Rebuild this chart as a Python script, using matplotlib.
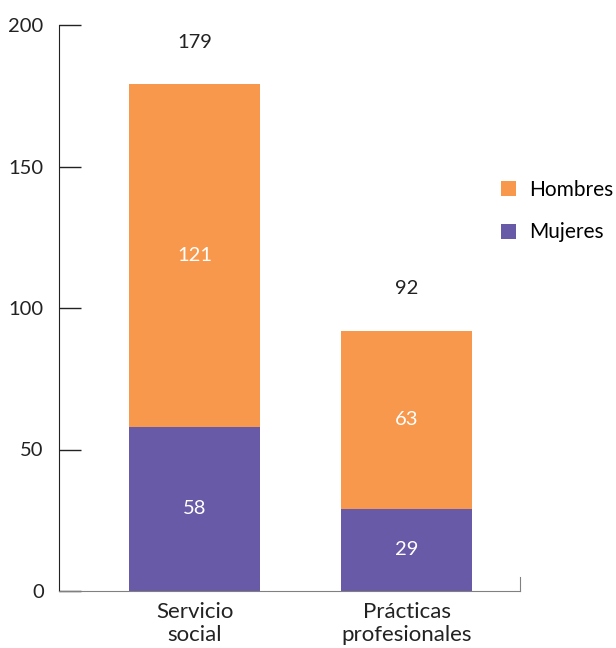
import numpy as np
import matplotlib
matplotlib.use("Agg")
import matplotlib.pyplot as plt

# data
categories = ["Servicio\nsocial", "Prácticas\nprofesionales"]
mujeres = [58, 29]
hombres = [121, 63]
yticks = [0, 50, 100, 150, 200]

orange = "#F7984C"
purple = "#685AA6"

plt.rcParams['font.family'] = ['Lato', 'DejaVu Sans']

fig = plt.figure(figsize=(6.16, 6.48), dpi=100)
ax = fig.add_axes([59/616, 1-591/648, (520-59)/616, (591-25)/648])

x = np.arange(len(categories))
w = 0.618
totals = np.array(mujeres) + np.array(hombres)

b1 = ax.bar(x, mujeres, w, color=purple, label="Mujeres")
b2 = ax.bar(x, hombres, w, bottom=mujeres, color=orange, label="Hombres")

for i in range(len(x)):
    ax.text(x[i], mujeres[i]/2, str(mujeres[i]), ha='center', va='center',
            color='white', fontsize=14.5)
    ax.text(x[i], mujeres[i] + hombres[i]/2, str(hombres[i]), ha='center',
            va='center', color='white', fontsize=14.5)
    ax.annotate(str(totals[i]), (x[i], totals[i]), xytext=(0, 24),
                textcoords='offset points', ha='center', va='bottom',
                fontsize=14.5, color='#222222')

ax.set_xlim(-0.639, 1.535)
ax.set_ylim(0, 200)
ax.set_yticks(yticks)
ax.set_xticks(x)
ax.set_xticklabels(categories, fontsize=16, linespacing=1.15)
ax.tick_params(axis='y', direction='in', length=16, width=1, labelsize=14.5,
               colors='#222222')
ax.tick_params(axis='x', length=0, pad=8, colors='#222222')
ax.yaxis.set_tick_params(pad=11)

ax.spines['top'].set_visible(False)
ax.spines['left'].set_color('#222222')
ax.spines['bottom'].set_color('#808080')
ax.spines['right'].set_color('#808080')
ax.spines['right'].set_bounds(0, 5)

fig.legend(handles=[b2, b1], labels=["Hombres", "Mujeres"], loc='center left',
           bbox_to_anchor=(482/616, 1-211/648), frameon=False, fontsize=15,
           handlelength=0.75, handleheight=0.75, handletextpad=0.6,
           labelspacing=1.1)

fig.savefig("out.png", dpi=100)
